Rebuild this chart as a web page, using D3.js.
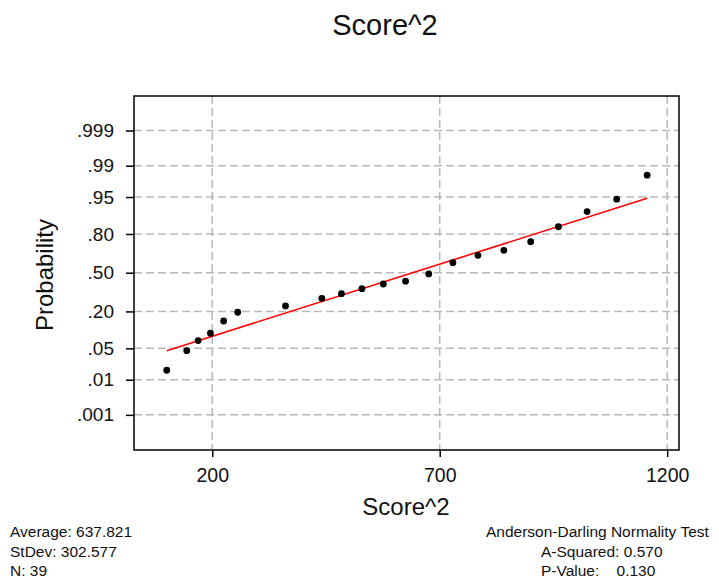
<!DOCTYPE html>
<html>
<head>
<meta charset="utf-8">
<script src="https://cdn.jsdelivr.net/npm/d3@7"></script>
<style>
  body { margin: 0; background: #fff; }
  svg { display: block; font-family: "Liberation Sans", Arial, sans-serif; }
  text { fill: #111; white-space: pre; }
</style>
</head>
<body>
<div id="chart"></div>
<script>
// observed Score^2 values and their plotted probabilities
const scores = [100, 144, 169, 196, 225, 256, 361, 441, 484, 529, 576,
  625, 676, 729, 784, 841, 900, 961, 1024, 1089, 1156];
const probs = [0.017, 0.045, 0.070, 0.094, 0.147, 0.195, 0.235, 0.289, 0.324, 0.364, 0.403,
  0.427, 0.489, 0.586, 0.647, 0.687, 0.750, 0.841, 0.908, 0.945, 0.983];

// fitted line end points
const fitX = [100, 1156];
const fitP = [0.045, 0.947];

const xTicks = [200, 700, 1200];
const probTicks = [0.001, 0.01, 0.05, 0.20, 0.50, 0.80, 0.95, 0.99, 0.999];
const probLabels = ['.001', '.01', '.05', '.20', '.50', '.80', '.95', '.99', '.999'];

const statsLeft = ['Average: 637.821', 'StDev: 302.577', 'N: 39'];
const statsRight = ['A-Squared: 0.570', 'P-Value:    0.130'];

// inverse normal cdf (Acklam)
function qnorm(p) {
  const a = [-39.69683028665376, 220.9460984245205, -275.9285104469687, 138.3577518672690, -30.66479806614716, 2.506628277459239];
  const b = [-54.47609879822406, 161.5858368580409, -155.6989798598866, 66.80131188771972, -13.28068155288572];
  const c = [-0.007784894002430293, -0.3223964580411365, -2.400758277161838, -2.549732539343734, 4.374664141464968, 2.938163982698783];
  const d = [0.007784695709041462, 0.3224671290700398, 2.445134137142996, 3.754408661907416];
  const pl = 0.02425;
  let q, r;
  if (p < pl) {
    q = Math.sqrt(-2 * Math.log(p));
    return (((((c[0]*q+c[1])*q+c[2])*q+c[3])*q+c[4])*q+c[5]) / ((((d[0]*q+d[1])*q+d[2])*q+d[3])*q+1);
  }
  if (p > 1 - pl) {
    q = Math.sqrt(-2 * Math.log(1 - p));
    return -(((((c[0]*q+c[1])*q+c[2])*q+c[3])*q+c[4])*q+c[5]) / ((((d[0]*q+d[1])*q+d[2])*q+d[3])*q+1);
  }
  q = p - 0.5; r = q * q;
  return (((((a[0]*r+a[1])*r+a[2])*r+a[3])*r+a[4])*r+a[5])*q / (((((b[0]*r+b[1])*r+b[2])*r+b[3])*r+b[4])*r+1);
}

const W = 719, H = 578;
const plot = { left: 134, top: 96, right: 679, bottom: 450 };

const svg = d3.select('#chart').append('svg')
  .attr('width', W)
  .attr('height', H);

svg.append('rect').attr('width', W).attr('height', H).attr('fill', '#fff');

const x = d3.scaleLinear()
  .domain([28, 1226])
  .range([plot.left, plot.right]);

const z = d3.scaleLinear()
  .domain([-3.854, 3.841])
  .range([plot.bottom, plot.top]);
const y = p => z(qnorm(p));

// grid
const grid = svg.append('g')
  .attr('stroke', '#b8b8b8')
  .attr('stroke-width', 1.5)
  .attr('stroke-dasharray', '8,4');

grid.selectAll('.hg')
  .data(probTicks)
  .enter()
  .append('line')
  .attr('x1', plot.left).attr('x2', plot.right)
  .attr('y1', d => y(d)).attr('y2', d => y(d));

grid.selectAll('.vg')
  .data(xTicks)
  .enter()
  .append('line')
  .attr('x1', d => x(d)).attr('x2', d => x(d))
  .attr('y1', plot.top).attr('y2', plot.bottom);

// axes
const xAxis = d3.axisBottom(x).tickValues(xTicks).tickFormat(d3.format('d'))
  .tickSize(7).tickPadding(11);
const gx = svg.append('g')
  .attr('transform', `translate(0, ${plot.bottom})`)
  .call(xAxis);
gx.select('.domain').remove();
gx.selectAll('line').attr('stroke', '#000').attr('stroke-width', 1.5);
gx.selectAll('text').attr('font-size', 19.5).attr('fill', '#111')
  .attr('font-family', '"Liberation Sans", Arial, sans-serif');

const yAxis = d3.axisLeft(z)
  .tickValues(probTicks.map(qnorm))
  .tickFormat((d, i) => probLabels[i])
  .tickSize(8).tickPadding(12);
const gy = svg.append('g')
  .attr('transform', `translate(${plot.left}, 0)`)
  .call(yAxis);
gy.select('.domain').remove();
gy.selectAll('line').attr('stroke', '#000').attr('stroke-width', 1.5);
gy.selectAll('text').attr('font-size', 19).attr('fill', '#111')
  .attr('font-family', '"Liberation Sans", Arial, sans-serif');

// frame
svg.append('rect')
  .attr('x', plot.left).attr('y', plot.top)
  .attr('width', plot.right - plot.left)
  .attr('height', plot.bottom - plot.top)
  .attr('fill', 'none')
  .attr('stroke', '#000')
  .attr('stroke-width', 1.5);

// fitted line
svg.append('line')
  .attr('x1', x(fitX[0])).attr('y1', y(fitP[0]))
  .attr('x2', x(fitX[1])).attr('y2', y(fitP[1]))
  .attr('stroke', '#ff0000')
  .attr('stroke-width', 1.6);

// points
svg.selectAll('.pt')
  .data(scores)
  .enter()
  .append('circle')
  .attr('class', 'pt')
  .attr('cx', d => x(d))
  .attr('cy', (d, i) => y(probs[i]))
  .attr('r', 3.4)
  .attr('fill', '#000');

// titles
svg.append('text')
  .attr('x', 385).attr('y', 35)
  .attr('text-anchor', 'middle')
  .attr('font-size', 29)
  .text('Score^2');

svg.append('text')
  .attr('x', 406).attr('y', 515)
  .attr('text-anchor', 'middle')
  .attr('font-size', 24)
  .text('Score^2');

svg.append('text')
  .attr('transform', 'translate(53, 275) rotate(-90)')
  .attr('text-anchor', 'middle')
  .attr('font-size', 24)
  .text('Probability');

// stats
svg.selectAll('.sl')
  .data(statsLeft)
  .enter()
  .append('text')
  .attr('x', 10)
  .attr('y', (d, i) => 537 + i * 19.5)
  .attr('font-size', 15.5)
  .text(d => d);

svg.append('text')
  .attr('x', 486).attr('y', 537)
  .attr('font-size', 15.5)
  .text('Anderson-Darling Normality Test');

svg.selectAll('.sr')
  .data(statsRight)
  .enter()
  .append('text')
  .attr('x', 541)
  .attr('y', (d, i) => 556.5 + i * 19.5)
  .attr('font-size', 15.5)
  .text(d => d);
</script>
</body>
</html>
